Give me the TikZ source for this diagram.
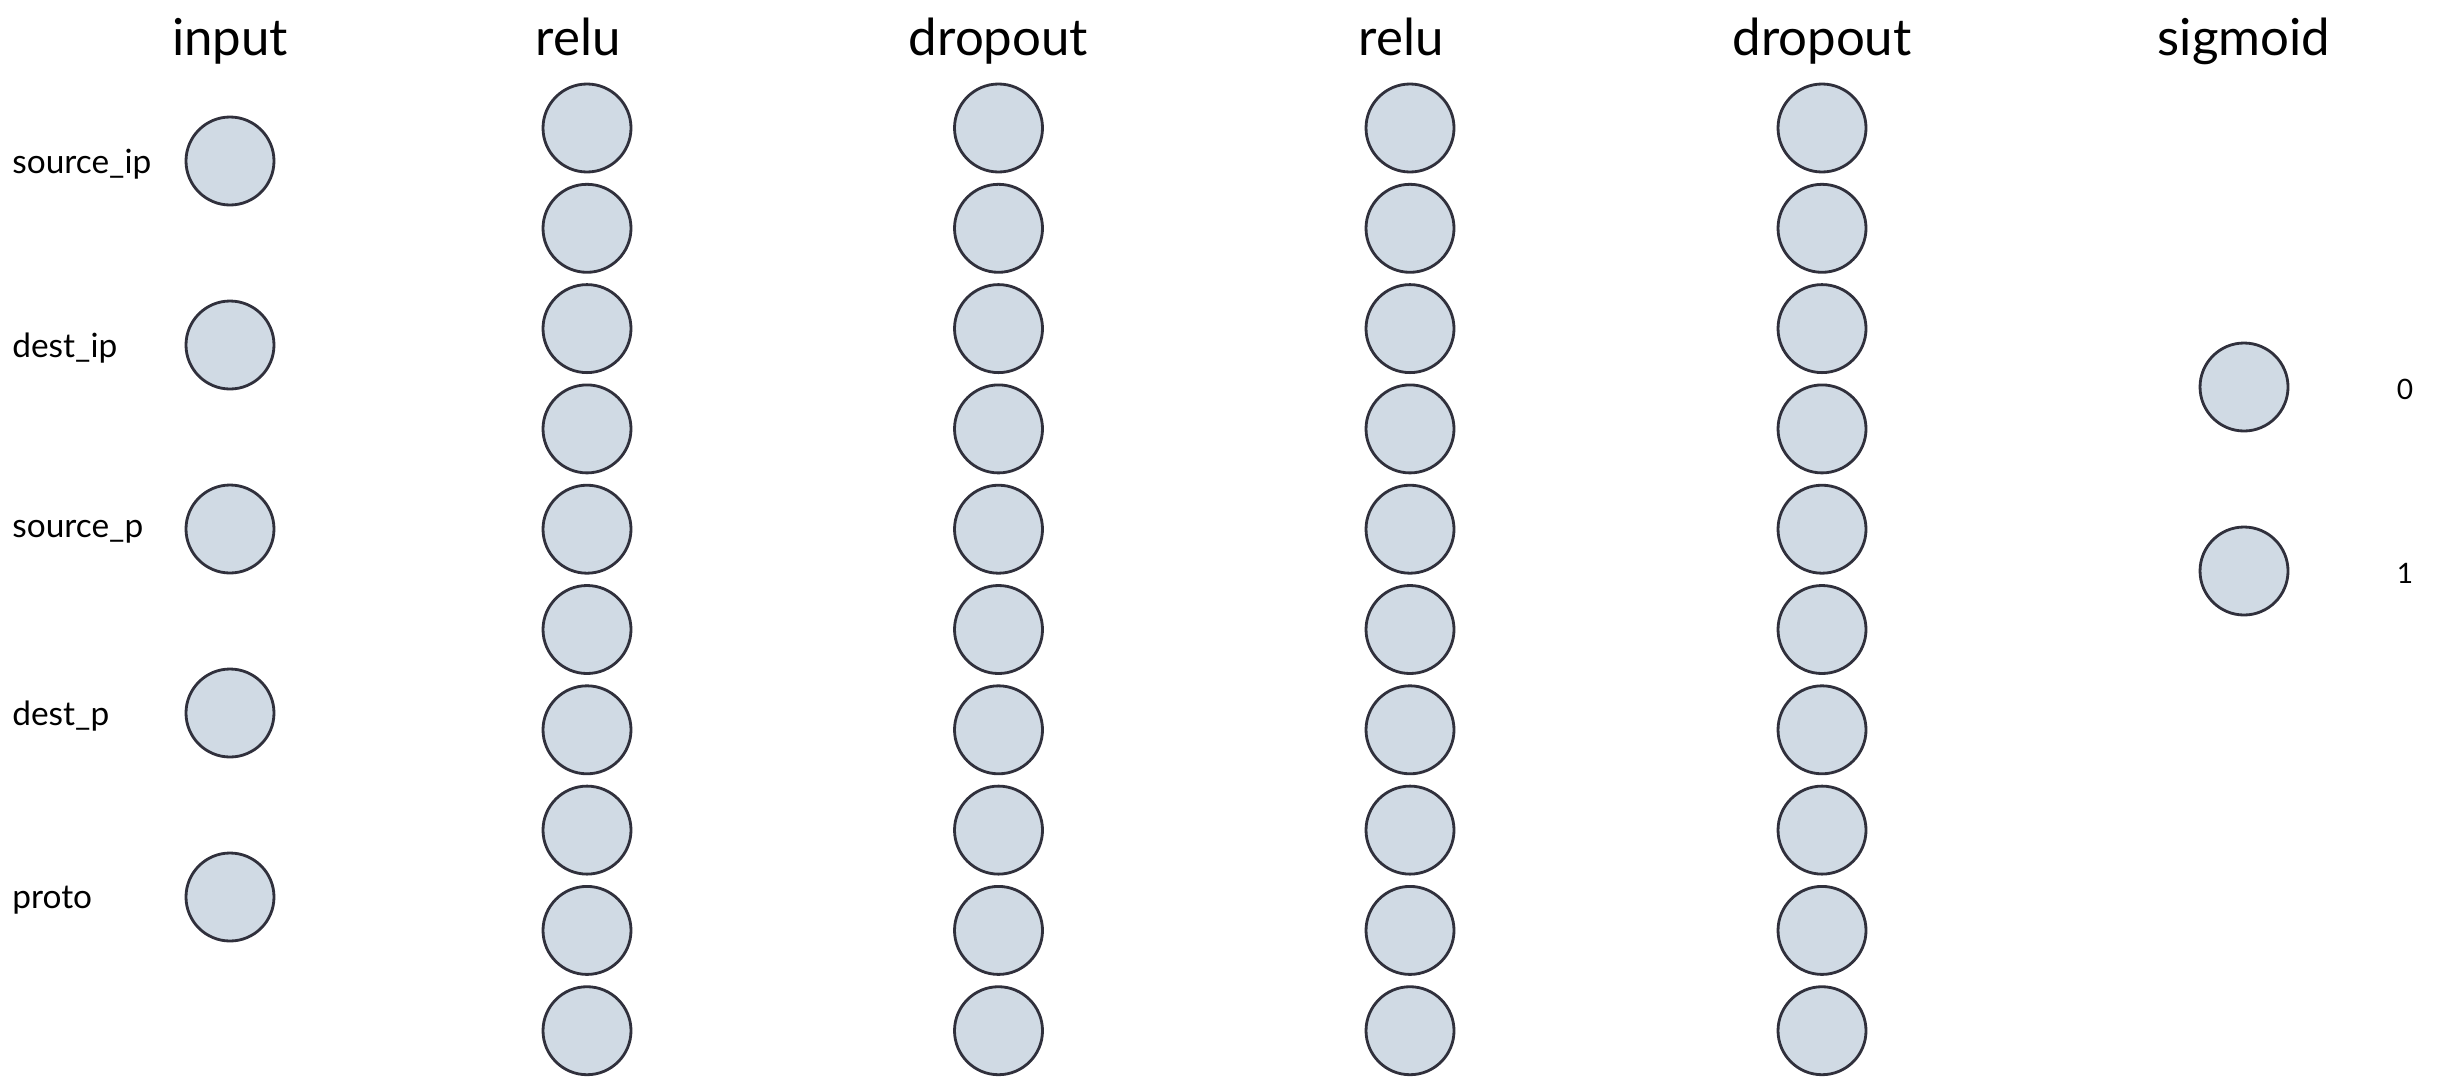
\documentclass[tikz,border=0pt]{standalone}
\usepackage{fontspec}
\setmainfont{Lato}
\usepackage{tikz}
\usetikzlibrary{positioning}
\definecolor{neuronfill}{HTML}{D0DAE4}
\definecolor{neurondraw}{HTML}{30303C}

\begin{document}
\begin{tikzpicture}[
        neuron/.style={circle, draw=neurondraw, fill=neuronfill, line width=0.8pt, minimum size=0.88cm, inner sep=0pt},
        layertitle/.style={font=\fontsize{14.5}{17}\selectfont},
        featurelabel/.style={anchor=west, font=\fontsize{9.5}{11}\selectfont},
        classlabel/.style={font=\fontsize{8}{10}\selectfont}]
        \useasboundingbox (0,0) rectangle (24.54,-10.82);

        % Layer titles
        \node[layertitle, anchor=base] (tin) at (2.30, -0.55) {input};
        \node[layertitle, anchor=base] (trelua) at (5.78, -0.55) {relu};
        \node[layertitle, anchor=base] (tdropa) at (9.985, -0.55) {dropout};
        \node[layertitle, anchor=base] (trelub) at (14.01, -0.55) {relu};
        \node[layertitle, anchor=base] (tdropb) at (18.22, -0.55) {dropout};
        \node[layertitle, anchor=base] (tsig) at (22.44, -0.55) {sigmoid};

        % Input neurons with their feature names
        \foreach \feat [count=\i] in {source\_ip, dest\_ip, source\_p, dest\_p, proto} {
            \node[neuron] (in\i) at (2.30, -1.61 - 1.84*\i + 1.84) {};
            \node[featurelabel] (f\i) at (0.0, -1.64 - 1.84*\i + 1.84) {\feat};
        }

        % Hidden layers, ten neurons each
        \foreach \layer/\x in {relua/5.87, dropa/9.985, relub/14.10, dropb/18.22} {
            \foreach \i in {1,...,10} {
                \node[neuron] (\layer\i) at (\x, -1.28 - 1.003*\i + 1.003) {};
            }
        }

        % Output neurons
        \node[neuron] (out0) at (22.44, -3.87) {};
        \node[neuron] (out1) at (22.44, -5.71) {};
        \node[classlabel] (c0) at (24.05, -3.89) {0};
        \node[classlabel] (c1) at (24.05, -5.73) {1};
    \end{tikzpicture}
\end{document}
